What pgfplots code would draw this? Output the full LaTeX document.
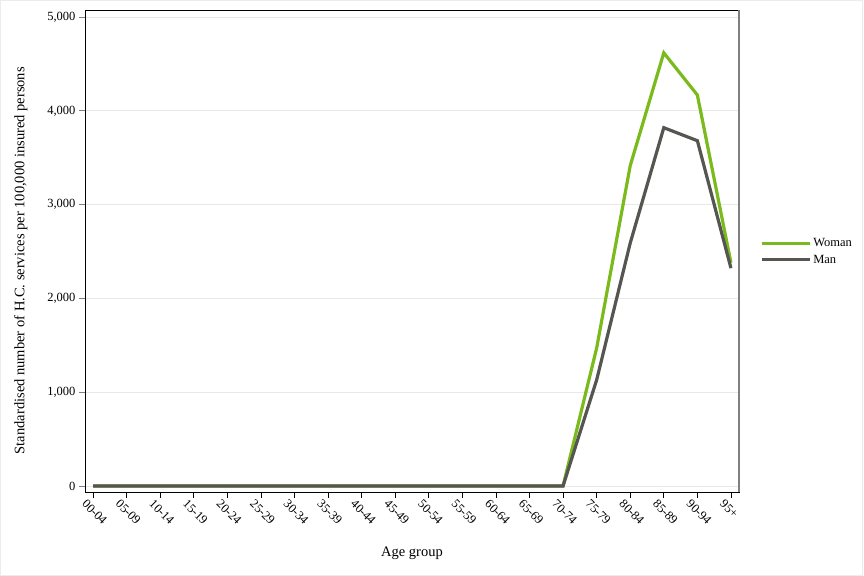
\documentclass[border=0pt]{standalone}
\usepackage{fontspec}
\setmainfont{Liberation Serif}
\usepackage{pgfplots}
\pgfplotsset{compat=1.18}
\definecolor{wgreen}{RGB}{122,186,28}
\definecolor{mgray}{RGB}{85,85,82}
\definecolor{gridc}{RGB}{232,232,232}
\begin{document}
\begin{tikzpicture}
\useasboundingbox (0,0) rectangle (864bp,576bp);
\draw[gray!15, line width=0.8bp] (0.4bp,0.4bp) rectangle (862.5bp,575.6bp);
\begin{axis}[
  at={(85bp,84bp)}, anchor=south west,
  width=654bp, height=482bp, scale only axis,
  xmin=-0.24, xmax=19.24,
  ymin=-65, ymax=5075,
  xtick={0,...,19},
  xticklabels={00-04,05-09,10-14,15-19,20-24,25-29,30-34,35-39,40-44,45-49,50-54,55-59,60-64,65-69,70-74,75-79,80-84,85-89,90-94,95+},
  ytick={0,1000,2000,3000,4000,5000},
  xtick pos=bottom, ytick pos=left,
  yticklabel style={/pgf/number format/.cd, 1000 sep={,}, assume math mode=true},
  /pgf/number format/assume math mode=true,
  tick label style={font=\fontsize{12.5bp}{14bp}\selectfont, text=black},
  xticklabel style={rotate=-45, anchor=north west, xshift=-7bp, yshift=-1bp},
  tick align=outside,
  major tick length=6bp,
  xtick style={black, line width=0.8bp},
  ytick style={gray, line width=0.8bp},
  ymajorgrids, grid style={gridc, line width=0.8bp},
  axis line style={black, line width=0.9bp},
  xlabel={Age group},
  ylabel={Standardised number of H.C. services per 100,000 insured persons},
  label style={font=\fontsize{14.5bp}{16bp}\selectfont},
  xlabel style={at={(axis description cs:0.5,-0.1266)}, anchor=center},
  ylabel style={at={(axis description cs:-0.098,0.480)}, anchor=center},
  legend style={at={(axis description cs:1.032,0.530)}, anchor=north west,
    draw=none, fill=none, font=\fontsize{12.5bp}{14bp}\selectfont,
    row sep=2.5bp, inner sep=0bp},
  legend cell align=left,
  legend image code/.code={\draw[#1, line width=3.2bp] (0bp,0bp) -- (48bp,0bp);},
  clip=false,
]
\addplot[wgreen, line width=3.2bp, line join=miter] coordinates {
(0,0) (1,0) (2,0) (3,0) (4,0) (5,0) (6,0) (7,0) (8,0) (9,0) (10,0) (11,0) (12,0) (13,0) (14,0)
(15,1470) (16,3415) (17,4618) (18,4168) (19,2380)};
\addlegendentry{Woman}
\addplot[mgray, line width=3.2bp, line join=miter] coordinates {
(0,0) (1,0) (2,0) (3,0) (4,0) (5,0) (6,0) (7,0) (8,0) (9,0) (10,0) (11,0) (12,0) (13,0) (14,0)
(15,1130) (16,2590) (17,3820) (18,3681) (19,2322)};
\addlegendentry{Man}
\draw[gray, line width=1.6bp] (rel axis cs:1,0) -- (rel axis cs:1,1);
\end{axis}
\end{tikzpicture}
\end{document}
